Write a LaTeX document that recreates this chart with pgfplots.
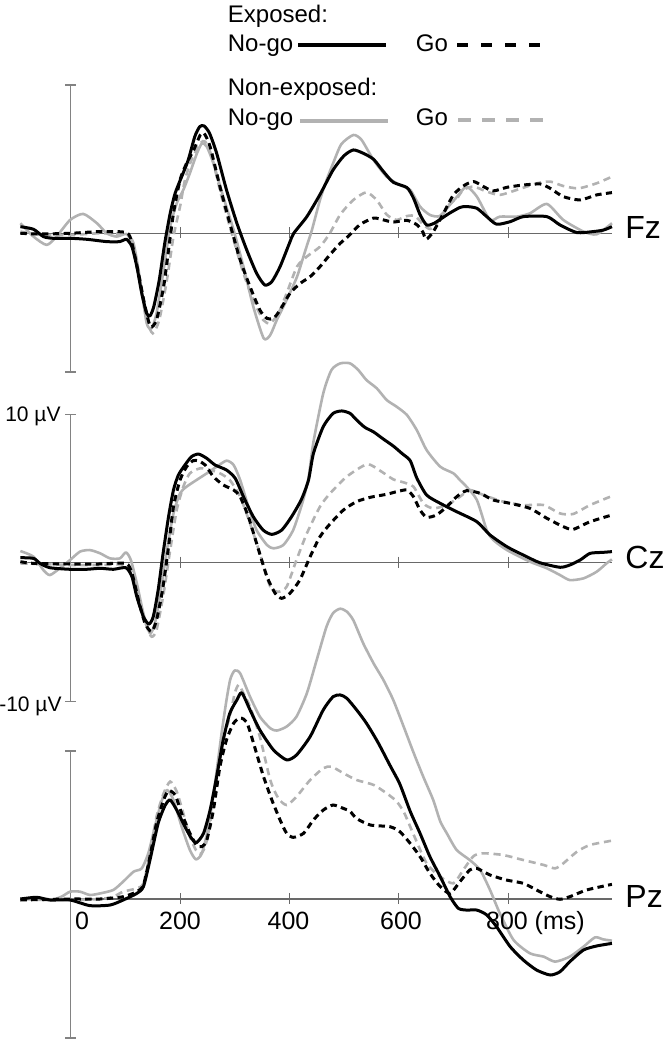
\documentclass[border=0pt]{standalone}
\usepackage{pgfplots}
\pgfplotsset{compat=1.18}
\usepackage{fontspec}
\setmainfont{Liberation Sans}
\definecolor{lgray}{RGB}{178,178,178}
\definecolor{agray}{RGB}{130,130,130}
\definecolor{bgray}{RGB}{105,105,105}
\pgfplotsset{
  erp/.style={width=331.5pt,height=525pt,scale only axis,at={(0,0)},anchor=south west,
    xmin=-129.3,xmax=1083.4,hide axis,clip=false},
  exNo/.style={black,line width=1.5pt,smooth,tension=0.4,line join=round,no markers},
  nxNo/.style={lgray,line width=1.3pt,smooth,tension=0.4,line join=round,no markers},
  exGo/.style={black,line width=1.5pt,smooth,tension=0.4,dash pattern=on 3.2pt off 2.2pt,no markers},
  nxGo/.style={lgray,line width=1.3pt,smooth,tension=0.4,dash pattern=on 3.6pt off 2.4pt,no markers},
}
\newcommand{\frameaxis}{%
  \draw[bgray,line width=0.6pt] (axis cs:-92,0) -- (axis cs:991,0);
  \draw[bgray,line width=0.5pt] ([yshift=3pt]axis cs:200,0) -- ([yshift=-2.5pt]axis cs:200,0);
  \draw[bgray,line width=0.5pt] ([yshift=3pt]axis cs:400,0) -- ([yshift=-2.5pt]axis cs:400,0);
  \draw[bgray,line width=0.5pt] ([yshift=3pt]axis cs:600,0) -- ([yshift=-2.5pt]axis cs:600,0);
  \draw[bgray,line width=0.5pt] ([yshift=3pt]axis cs:800,0) -- ([yshift=-2.5pt]axis cs:800,0);
  \draw[agray,line width=0.8pt] (axis cs:0,-9.66) -- (axis cs:0,10.32);
  \draw[agray,line width=0.8pt] ([xshift=-2.75pt]axis cs:0,10.32) -- ([xshift=2.75pt]axis cs:0,10.32);
  \draw[agray,line width=0.8pt] ([xshift=-2.75pt]axis cs:0,-9.66) -- ([xshift=2.75pt]axis cs:0,-9.66);
}
\begin{document}
\begin{tikzpicture}
\useasboundingbox (0,0) rectangle (331.5pt,525pt);
% ---------------- Fz ----------------
\begin{axis}[erp,ymin=-56.834,ymax=16.235]
\frameaxis
\addplot[nxNo] coordinates {(-92,0.7)(-68,-0.23)(-44,-0.81)(-26,-0.23)(-1,0.93)(23,1.35)(48,0.7)(66,0)(84,-0.23)(102,-0.05)(115,-0.7)(127,-3.25)(139,-6.26)(148,-6.61)(157,-5.57)(170,-2.55)(182,0.46)(194,2.09)(206,3.02)(218,4.18)(231,5.57)(240,6.26)(249,6.03)(261,4.87)(279,2.55)(298,0.23)(316,-2.32)(334,-5.1)(353,-7.31)(365,-7.08)(377,-6.03)(395,-4.64)(414,-3.02)(430,-1.1)(441,0.2)(456,2.32)(468,3.7)(480,4.87)(495,6.2)(517,6.84)(532,6.5)(554,5.1)(578,3.94)(602,3.36)(621,3.02)(639,1.86)(657,1.28)(675,1.2)(694,2.0)(708,2.6)(724,3.25)(743,2.55)(767,0.93)(785,1.16)(816,1.16)(840,1.39)(871,2.04)(901,0.93)(938,0.12)(962,-0.07)(990,0.7)};
\addplot[nxGo] coordinates {(-92,0.12)(-50,-0.12)(-1,-0.12)(54,0)(102,-0.12)(115,-0.93)(127,-3.48)(139,-6.03)(150,-6.96)(162,-6.03)(176,-3.25)(188,-0.23)(200,1.86)(209,3.71)(221,5.1)(237,6.26)(246,6.38)(258,5.34)(276,2.55)(298,-0.46)(316,-2.78)(334,-4.64)(352,-6.03)(365,-6.26)(380,-5.57)(395,-4.18)(414,-2.32)(432,-1.62)(456,-0.93)(474,0)(493,1.3)(517,2.32)(541,2.85)(560,2.3)(578,1.3)(596,0.93)(615,1.2)(630,1.2)(645,0.6)(657,0.3)(668,0.6)(682,1.39)(694,2.09)(706,2.4)(718,3.02)(737,3.25)(761,2.9)(785,2.67)(816,3.02)(853,3.48)(877,3.6)(901,3.29)(929,3.13)(962,3.48)(990,3.94)};
\addplot[exGo] coordinates {(-92,0)(-56,-0.05)(0,0)(54,0.12)(102,0.05)(112,-0.7)(124,-2.78)(136,-5.1)(146,-6.5)(157,-6.03)(170,-3.71)(179,-1.16)(188,1.39)(200,3.71)(212,4.87)(225,5.8)(237,6.84)(244,6.96)(255,6.03)(273,3.25)(291,0.7)(310,-1.86)(328,-3.71)(346,-5.34)(359,-5.92)(371,-5.92)(383,-5.34)(401,-4.18)(420,-3.48)(438,-3.02)(456,-2.32)(474,-1.5)(493,-0.7)(508,-0.2)(529,0.6)(554,1.06)(572,0.93)(590,0.78)(615,0.9)(633,0.6)(644,0.1)(650,-0.42)(663,0.1)(682,1.4)(700,2.67)(718,3.29)(737,3.6)(755,3.25)(773,2.95)(798,3.2)(828,3.36)(859,3.43)(877,3.13)(901,2.55)(932,2.32)(962,2.67)(990,2.83)};
\addplot[exNo] coordinates {(-92,0.46)(-68,0.28)(-50,-0.23)(-32,-0.35)(0,-0.35)(30,-0.42)(66,-0.58)(90,-0.58)(102,-0.42)(112,-0.93)(121,-2.32)(130,-4.18)(139,-5.57)(145,-5.75)(152,-5.1)(162,-3.25)(172,-0.7)(182,1.39)(191,2.78)(203,3.94)(215,5.1)(227,6.73)(236,7.42)(244,7.47)(254,6.96)(267,5.57)(285,3.02)(304,0.7)(322,-1.16)(340,-2.78)(355,-3.6)(368,-3.36)(383,-2.32)(400,-0.7)(408,0)(432,1.16)(456,2.7)(480,4.41)(500,5.4)(517,5.8)(535,5.57)(554,5.15)(572,4.3)(590,3.55)(615,3.18)(627,2.45)(639,1.3)(651,0.58)(665,0.7)(690,1.33)(712,1.8)(724,1.86)(743,1.74)(761,1.16)(779,0.63)(804,0.81)(828,1.16)(871,1.16)(895,0.58)(926,0.05)(956,0.12)(975,0.23)(990,0.46)};
\end{axis}
% ---------------- Cz ----------------
\begin{axis}[erp,ymin=-33.911,ymax=39.158]
\frameaxis
\addplot[nxNo] coordinates {(-92,0.81)(-68,0.42)(-50,-0.51)(-38,-0.86)(-20,-0.39)(-1,0.19)(17,0.77)(35,0.88)(54,0.65)(72,0.3)(90,0.3)(101,0.72)(110,0.19)(121,-1.44)(133,-3.53)(145,-4.92)(154,-4.22)(163,-2.37)(176,0.88)(188,3.43)(200,4.83)(212,5.29)(230,5.75)(249,6.22)(267,6.68)(285,7.1)(298,6.8)(310,5.75)(325,3.9)(340,2.27)(359,1.23)(371,1.0)(389,1.23)(407,2.27)(424,4.2)(435,5.9)(444,8.4)(462,11.79)(477,13.41)(493,13.87)(511,13.87)(526,13.41)(541,12.71)(560,12.13)(578,11.32)(596,10.86)(615,10.28)(633,9.23)(651,7.84)(676,6.68)(700,6.22)(712,5.75)(724,5.29)(743,4.36)(761,2.27)(773,1.58)(798,0.88)(840,0.07)(871,-0.39)(895,-0.86)(913,-1.21)(938,-1.09)(962,-0.63)(980,-0.05)(990,0.23)};
\addplot[nxGo] coordinates {(-92,-0.05)(-1,-0.16)(54,-0.16)(101,-0.16)(115,-0.97)(127,-2.83)(139,-4.45)(148,-5.15)(157,-4.69)(170,-2.13)(182,0.88)(194,3.67)(206,5.29)(218,6.22)(237,6.57)(255,6.45)(273,6.22)(291,5.75)(310,4.59)(328,2.74)(346,0.65)(365,-1.67)(380,-2.02)(395,-1.67)(413,0.19)(432,2.04)(456,3.9)(474,4.8)(505,5.99)(542,6.85)(566,6.4)(590,5.8)(608,5.6)(627,5.29)(645,4.13)(663,3.78)(688,4.01)(712,4.59)(730,5.06)(755,4.71)(791,4.25)(828,4.01)(865,4.01)(895,3.43)(919,3.39)(950,4.01)(990,4.64)};
\addplot[exGo] coordinates {(-92,0.07)(-68,-0.05)(-1,-0.09)(54,-0.09)(101,-0.05)(112,-0.74)(124,-2.6)(136,-4.22)(148,-4.8)(157,-3.99)(168,-1.9)(179,1.11)(188,3.9)(200,5.75)(212,6.68)(224,7.1)(234,7.08)(246,6.8)(261,5.99)(279,5.41)(298,5.06)(310,4.59)(325,3.2)(340,1.35)(359,-0.97)(374,-2.13)(386,-2.48)(401,-2.13)(419,-1.21)(438,0.42)(456,1.81)(474,2.68)(499,3.67)(523,4.25)(548,4.55)(578,4.76)(596,4.94)(615,5.06)(627,4.59)(639,3.67)(651,3.16)(669,3.32)(688,3.9)(706,4.59)(724,5.01)(749,4.83)(773,4.36)(804,4.13)(840,3.78)(871,3.09)(901,2.51)(919,2.32)(950,2.85)(990,3.32)};
\addplot[exNo] coordinates {(-92,0.35)(-68,0.3)(-56,-0.05)(-38,-0.35)(-1,-0.46)(29,-0.46)(54,-0.39)(78,-0.46)(101,-0.35)(112,-0.97)(121,-2.37)(133,-3.76)(143,-4.27)(151,-3.76)(160,-1.9)(169,0.65)(179,3.2)(188,5.06)(197,6.1)(209,6.8)(221,7.38)(234,7.56)(249,7.26)(264,6.8)(285,6.45)(301,5.87)(316,4.59)(334,3.2)(352,2.27)(368,1.97)(386,2.27)(404,3.2)(422,4.4)(435,5.75)(444,7.6)(462,9.47)(480,10.39)(496,10.56)(511,10.39)(523,9.93)(538,9.42)(554,9.1)(572,8.6)(590,8.12)(606,7.6)(621,7.1)(633,5.9)(651,4.71)(676,4.13)(706,3.55)(743,2.85)(767,1.93)(798,1.11)(828,0.53)(858,0)(895,-0.32)(913,-0.16)(932,0.19)(950,0.65)(974,0.72)(990,0.77)};
\end{axis}
% ---------------- Pz ----------------
\begin{axis}[erp,ymin=-10.508,ymax=62.561]
\frameaxis
\addplot[nxNo] coordinates {(-92,0)(-38,-0.07)(-17,0.16)(-1,0.51)(17,0.51)(35,0.28)(54,0.39)(78,0.63)(96,1.21)(115,1.9)(130,2.13)(142,3.18)(154,5.03)(166,6.77)(176,7.59)(188,6.89)(203,5.03)(218,3.41)(229,2.76)(240,3.18)(252,5.03)(264,8.05)(276,11.53)(285,13.85)(292,15.3)(300,15.9)(310,15.7)(328,14.08)(346,12.69)(365,11.88)(377,11.72)(395,12.0)(413,12.69)(432,14.32)(450,16.64)(468,18.96)(480,19.9)(493,20.2)(505,20.0)(517,19.4)(535,17.8)(554,16.4)(572,15.24)(590,13.85)(609,12.0)(627,10.2)(645,8.5)(663,6.9)(676,5.4)(688,4.57)(706,3.41)(730,2.71)(749,2.02)(767,0.63)(785,-1.0)(810,-2.85)(840,-3.78)(865,-4.01)(886,-4.36)(913,-4.01)(938,-3.32)(959,-2.67)(974,-2.81)(990,-2.9)};
\addplot[nxGo] coordinates {(-92,0)(-1,-0.07)(54,0)(78,0.16)(96,0.51)(121,0.74)(133,1.09)(145,3.18)(157,5.73)(170,7.35)(182,8.17)(194,7.47)(206,5.96)(218,4.34)(229,3.41)(237,3.13)(246,3.64)(255,5.27)(267,8.28)(279,11.07)(291,12.69)(300,14.3)(307,14.9)(315,14.4)(328,13.39)(346,11.3)(365,8.28)(380,7.0)(395,6.54)(413,7.12)(438,8.28)(462,9.1)(477,9.21)(499,8.75)(523,8.28)(554,7.94)(578,7.35)(596,6.8)(610,6.0)(627,4.5)(651,2.48)(676,1.55)(700,1.09)(718,2.02)(737,2.99)(755,3.18)(791,3.06)(828,2.71)(865,2.37)(886,2.13)(901,2.48)(926,3.29)(950,3.76)(990,4.06)};
\addplot[exGo] coordinates {(-92,-0.07)(-1,0)(54,0)(96,0.16)(121,0.51)(133,0.97)(145,2.95)(157,5.27)(170,6.89)(179,7.54)(191,7.24)(203,5.96)(218,4.57)(230,3.76)(240,3.64)(249,4.11)(261,6.19)(273,9.21)(285,11.07)(298,12.23)(310,12.6)(322,12.3)(334,10.9)(352,8.6)(368,6.89)(383,5.5)(395,4.57)(407,4.29)(426,4.57)(444,5.5)(462,6.19)(480,6.54)(499,6.3)(511,6.1)(523,5.6)(548,5.15)(584,5.03)(602,4.69)(621,3.87)(639,2.95)(657,1.79)(676,0.86)(694,0.39)(712,1.21)(730,2.02)(743,2.13)(767,1.67)(797,1.32)(828,1.09)(852,0.63)(877,0.16)(895,-0.02)(913,0.16)(944,0.63)(990,1.02)};
\addplot[exNo] coordinates {(-92,0)(-62,0.12)(-38,-0.07)(-1,-0.07)(35,-0.46)(72,-0.42)(96,-0.07)(121,0.39)(133,0.86)(145,2.71)(160,5.27)(173,6.54)(182,6.89)(194,6.19)(209,5.03)(221,4.22)(230,3.92)(243,4.57)(255,6.19)(267,8.52)(279,11.07)(291,12.92)(304,13.85)(313,14.35)(328,13.16)(346,11.76)(371,10.37)(395,9.68)(413,10.02)(438,11.3)(462,13.16)(480,14.08)(493,14.2)(505,13.97)(523,13.16)(541,12.23)(562,10.9)(584,9.3)(602,8.0)(621,6.1)(639,4.57)(657,2.95)(676,1.55)(694,0.16)(709,-0.65)(724,-0.77)(743,-0.77)(761,-1.11)(779,-1.93)(804,-3.32)(828,-4.25)(852,-4.94)(877,-5.29)(895,-5.06)(913,-4.36)(938,-3.55)(962,-3.27)(990,-3.09)};
\end{axis}
% ---------------- texts and legend (pixel frame) ----------------
\begin{scope}[x=0.5pt,y=-0.5pt,yshift=525pt]
\begin{scope}[every node/.style={inner sep=0pt,font=\fontsize{12}{14}\selectfont}]
\node[anchor=base west] at (227.5,22.3) {Exposed:};
\node[anchor=base west] at (227.5,51.5) {No-go};
\node[anchor=base west] at (415.5,51.5) {Go};
\node[anchor=base west] at (227.5,95.3) {Non-exposed:};
\node[anchor=base west] at (227.5,125.3) {No-go};
\node[anchor=base west] at (415.5,125.3) {Go};
\end{scope}
\draw[black,line width=2.2pt] (298,45) -- (386,45);
\draw[black,line width=2.2pt,dash pattern=on 5.35pt off 6.65pt] (457,45) -- (544,45);
\draw[lgray,line width=2.2pt] (299.6,121) -- (387.5,121);
\draw[lgray,line width=2.2pt,dash pattern=on 6.4pt off 5.6pt] (458,120) -- (544,120);
\begin{scope}[every node/.style={inner sep=0pt,font=\fontsize{16}{18}\selectfont,anchor=base west}]
\node at (625,238.3) {Fz};
\node at (625,569) {Cz};
\node at (625,908) {Pz};
\end{scope}
\begin{scope}[every node/.style={inner sep=0pt,font=\fontsize{10.5}{12}\selectfont,anchor=base east}]
\node at (61,421.5) {10 µV};
\node at (62,711.5) {-10 µV};
\end{scope}
\begin{scope}[every node/.style={inner sep=0pt,font=\fontsize{12.5}{14}\selectfont}]
\node[anchor=base] at (82,930) {0};
\node[anchor=base] at (180,930) {200};
\node[anchor=base] at (288.5,930) {400};
\node[anchor=base] at (401,930) {600};
\node[anchor=base west] at (485.7,930) {800 (ms)};
\end{scope}
\end{scope}
\end{tikzpicture}
\end{document}
